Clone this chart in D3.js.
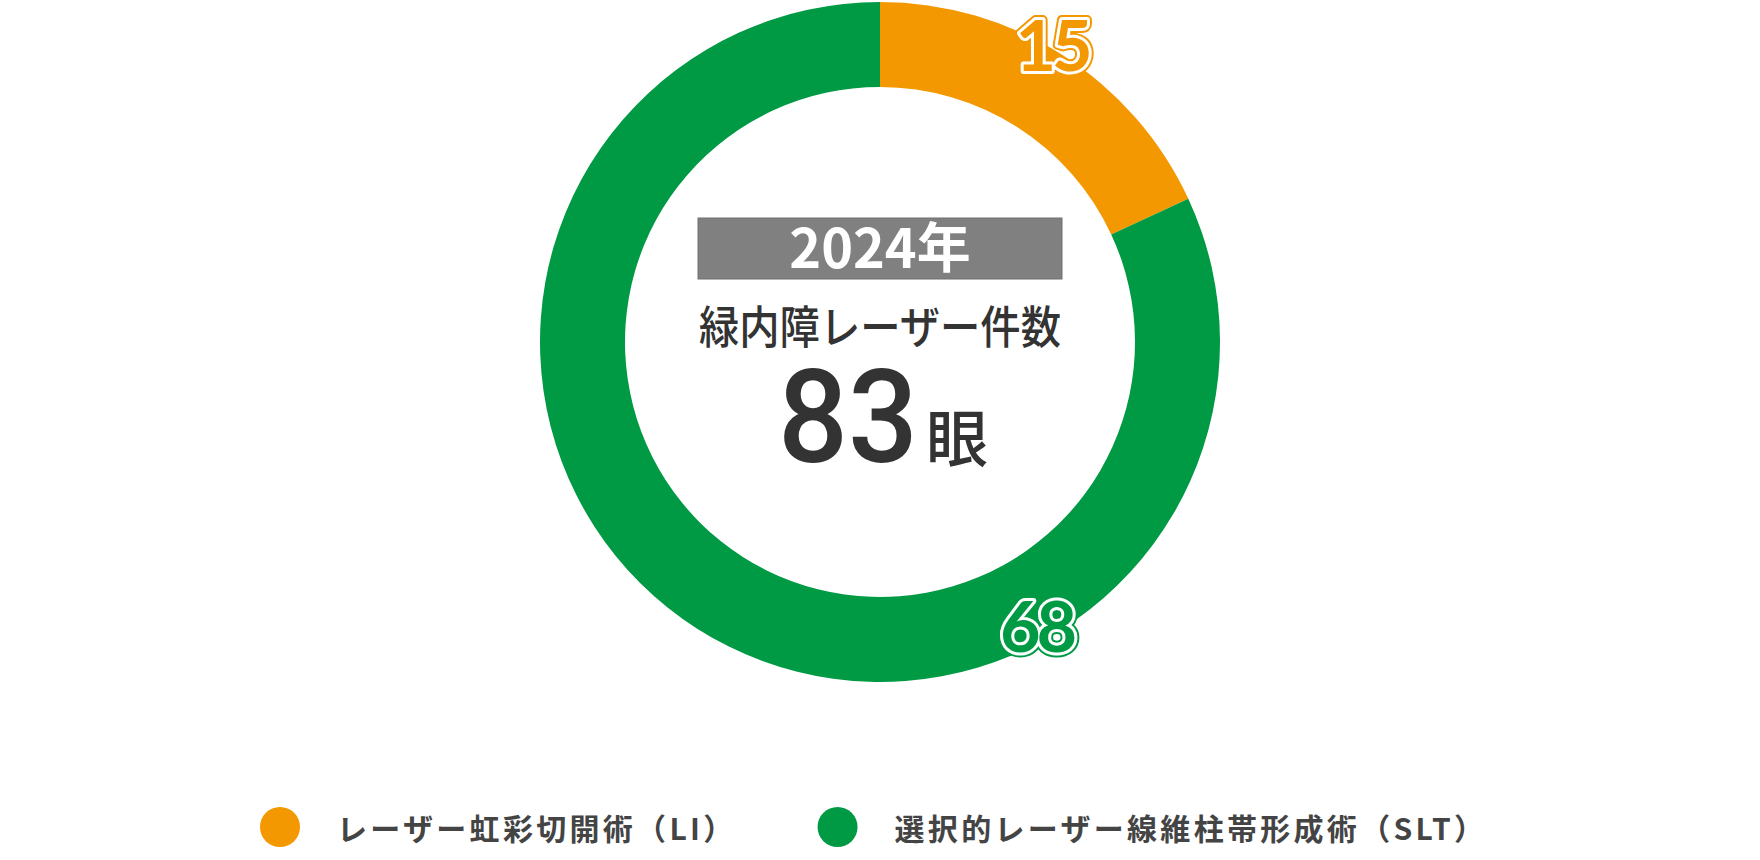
<!DOCTYPE html>
<html>
<head>
<meta charset="utf-8">
<script src="https://cdn.jsdelivr.net/npm/d3@7"></script>
<style>
  html, body { margin: 0; padding: 0; background: #fff; }
  svg { display: block; }
</style>
</head>
<body>
<div id="chart"></div>
<script>
const w = 1760;
const h = 860;

// chart data
const categories = ["レーザー虹彩切開術（LI）", "選択的レーザー線維柱帯形成術（SLT）"];
const values = [15, 68];
const colors = ["#f39800", "#009a44"];
const labelAngles = [30, 151]; // degrees, where each value label sits on the ring
const yearLabel = "2024年";
const titleLabel = "緑内障レーザー件数";
const unitLabel = "眼";

const cx = 880;
const cy = 342;
const outerR = 340;
const innerR = 255;
const jp = "'Noto Sans CJK JP', 'Noto Sans', sans-serif";

const data = categories.map((c, i) => ({ name: c, value: values[i], color: colors[i], labelAngle: labelAngles[i] }));
const total = d3.sum(values);

const svg = d3.select("#chart").
append("svg").
attr("width", w).
attr("height", h);

const pie = d3.pie().sort(null).value(d => d.value);
const arc = d3.arc().innerRadius(innerR).outerRadius(outerR);

const ring = svg.append("g").attr("transform", "translate(" + cx + "," + cy + ")");

ring.selectAll("path").
data(pie(data)).
enter().
append("path").
attr("d", arc).
attr("fill", d => d.data.color);

// value labels: outer colour line, white band, colour fill
const labelR = d3.scaleOrdinal().domain(categories).range([344, 323]);
const labels = ring.selectAll("g.vlabel").
data(data).
enter().
append("g").
attr("class", "vlabel").
attr("transform", d => {
  const a = d.labelAngle * Math.PI / 180;
  const r = labelR(d.name);
  return "translate(" + r * Math.sin(a) + "," + -r * Math.cos(a) + ")";
});

[[10, d => d.color], [6, () => "#fff"], [0, d => d.color]].forEach(([sw, col]) => {
  labels.append("text").
  text(d => d.value).
  attr("text-anchor", "middle").
  attr("dominant-baseline", "central").
  style("font-family", "Lato, 'Noto Sans', sans-serif").
  style("font-weight", "700").
  style("font-size", "70px").
  style("letter-spacing", "-4px").
  attr("fill", col).
  attr("stroke", sw ? col : "none").
  attr("stroke-width", sw).
  attr("stroke-linejoin", "round");
});

// centre text
svg.append("rect").
attr("x", cx - 182).
attr("y", 218).
attr("width", 364).
attr("height", 61).
attr("fill", "#808080").
attr("stroke", "#6f6f6f").
attr("stroke-width", 1);

svg.append("text").
attr("x", cx).
attr("y", 268).
attr("text-anchor", "middle").
style("font-family", jp).
style("font-weight", "700").
style("font-size", "54px").
attr("fill", "#fff").
text(yearLabel);

svg.append("text").
attr("x", cx).
attr("y", 344).
attr("text-anchor", "middle").
attr("textLength", 362).
attr("lengthAdjust", "spacingAndGlyphs").
style("font-family", jp).
style("font-weight", "500").
style("font-size", "45px").
attr("fill", "#333").
text(titleLabel);

svg.append("text").
attr("x", 778).
attr("y", 462).
attr("textLength", 140).
attr("lengthAdjust", "spacingAndGlyphs").
style("font-family", "Roboto, 'Liberation Sans', sans-serif").
style("font-weight", "500").
style("font-size", "130px").
attr("fill", "#333").
text(total);

svg.append("text").
attr("x", 926).
attr("y", 462).
style("font-family", jp).
style("font-weight", "500").
style("font-size", "62px").
attr("fill", "#333").
text(unitLabel);

// legend
const legend = svg.append("g").attr("id", "legend");
const dotR = 20;
const legendY = 827;

const items = legend.selectAll("g").
data(data).
enter().
append("g");

items.append("circle").
attr("r", dotR).
attr("cy", legendY).
attr("fill", d => d.color);

items.append("text").
attr("y", legendY).
attr("dominant-baseline", "central").
style("font-family", jp).
style("font-weight", "700").
style("font-size", "30px").
style("letter-spacing", "3.3px").
attr("fill", "#444").
text(d => d.name);

let xpos = 260;
items.each(function () {
  const g = d3.select(this);
  g.select("circle").attr("cx", xpos + dotR);
  g.select("text").attr("x", xpos + 77);
  xpos += 77 + g.select("text").node().getComputedTextLength() + 81;
});
</script>
</body>
</html>
